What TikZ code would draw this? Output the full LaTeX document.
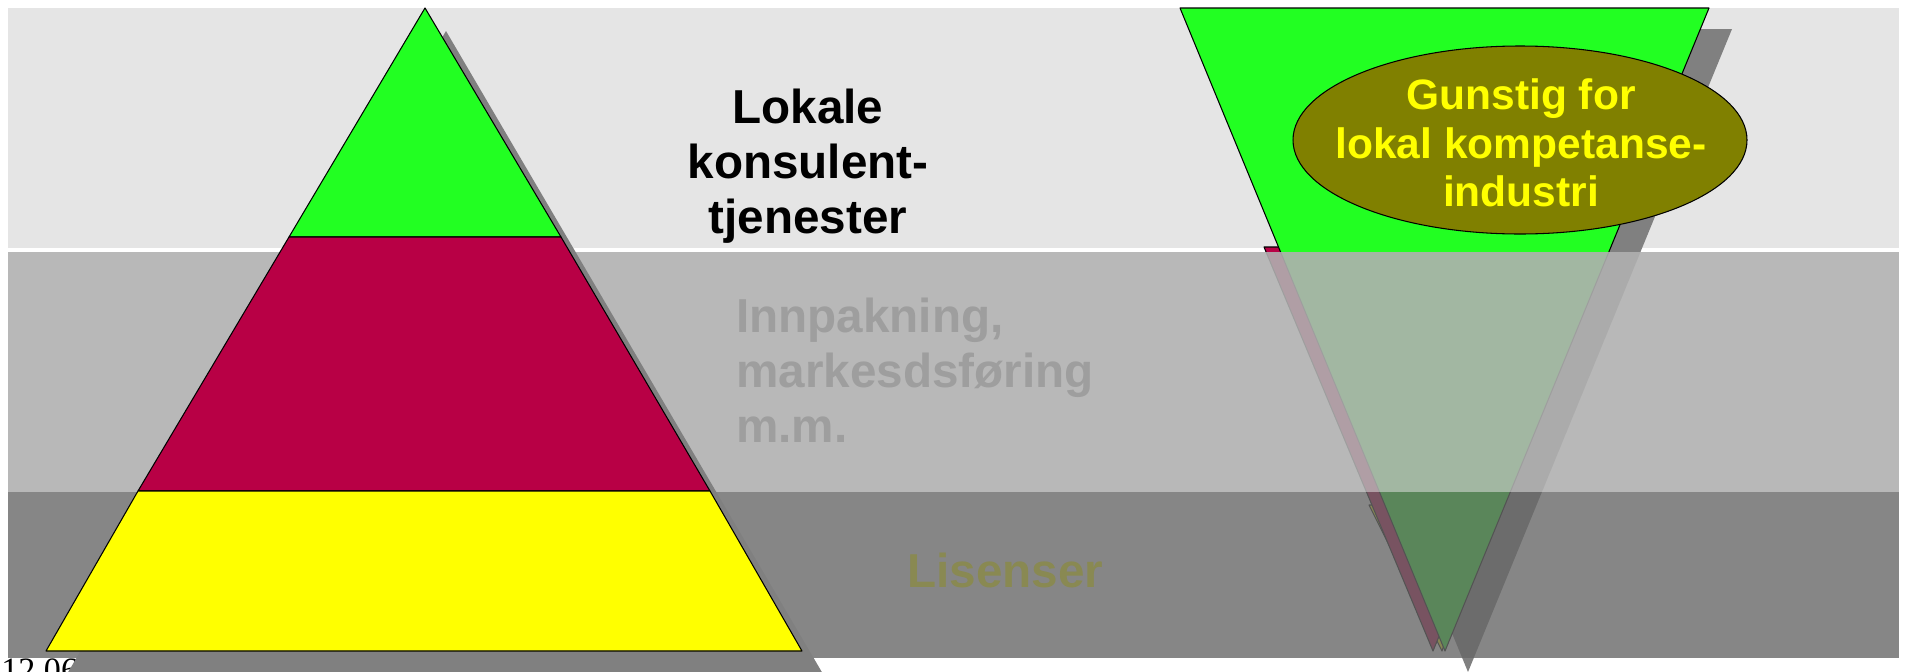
\documentclass[tikz,border=0pt]{standalone}
\usepackage{fontspec}
\setmainfont{Liberation Sans}
\newfontfamily\datefont{Liberation Serif}

\definecolor{bandlight}{RGB}{229,229,229}
\definecolor{bandmid}{RGB}{176,176,176}
\definecolor{banddark}{RGB}{104,104,104}
\definecolor{layergreen}{RGB}{34,255,34}
\definecolor{layerred}{RGB}{184,0,69}
\definecolor{layeryellow}{RGB}{255,255,0}
\definecolor{shadowgray}{RGB}{128,128,128}
\definecolor{olivefill}{RGB}{128,128,0}
\definecolor{paletext}{RGB}{158,158,158}
\definecolor{licencetext}{RGB}{137,137,82}

\tikzset{
    layer/.style={draw=black, line width=0.6pt, line join=round},
    shadowfill/.style={fill=shadowgray},
    bigtext/.style={font=\fontsize{27.1}{31.3}\selectfont\bfseries, inner sep=0pt},
}

\begin{document}
\begin{tikzpicture}
        \useasboundingbox (0,0) rectangle (38.1,-13.42);
        % top band
        \fill [bandlight] (0.16,-0.16) rectangle (37.98,-4.96);
        % inverted pyramid
        \fill [shadowfill] (24.06,-0.58)-- (34.64,-0.58)-- (29.36,-13.44)-- cycle;
        \filldraw [layer, fill=layeryellow] (27.38,-10.10)-- (29.78,-10.10)-- (28.84,-13.02)-- cycle;
        \filldraw [layer, fill=layerred] (25.28,-4.94)-- (31.96,-4.94)-- (28.66,-13.02)-- cycle;
        \filldraw [layer, fill=layergreen] (23.60,-0.16)-- (34.18,-0.16)-- (28.90,-13.02)-- cycle;
        \draw [line width=0.6pt, fill=olivefill] (30.40,-2.80) ellipse (4.54 and 1.88);
        \node (gunstig) [text=layeryellow, align=center, inner sep=0pt, font=\fontsize{24.2}{27.6}\selectfont\bfseries] at (30.42,-2.86) {Gunstig for\\lokal kompetanse-\\industri};
        % lower bands
        \fill [bandmid, opacity=0.9] (0.16,-5.04) rectangle (37.98,-9.84);
        \fill [banddark, opacity=0.8] (0.16,-9.84) rectangle (37.98,-13.16);
        \node (innpakning) [bigtext, text=paletext, align=left, anchor=west] at (14.72,-7.40) {Innpakning,\\markesdsføring\\m.m.};
        \node (lisenser) [bigtext, text=licencetext, anchor=base west] at (18.14,-11.74) {Lisenser};
        \node (dato) [font=\fontsize{19.4}{22}\selectfont\datefont, inner sep=0pt, anchor=base west] at (0.02,-13.62) {12.06};
        % pyramid
        \fill [shadowfill] (8.92,-0.62)-- (1.34,-13.48)-- (16.46,-13.48)-- cycle;
        \filldraw [layer, fill=layergreen] (8.50,-0.16)-- (5.78,-4.74)-- (11.22,-4.74)-- cycle;
        \filldraw [layer, fill=layerred] (5.78,-4.74)-- (2.76,-9.82)-- (14.20,-9.82)-- (11.22,-4.74)-- cycle;
        \filldraw [layer, fill=layeryellow] (2.76,-9.82)-- (0.92,-13.02)-- (16.04,-13.02)-- (14.20,-9.82)-- cycle;
        \node (lokale) [bigtext, align=center] at (16.16,-3.32) {Lokale\\konsulent-\\tjenester};
    \end{tikzpicture}
\end{document}
